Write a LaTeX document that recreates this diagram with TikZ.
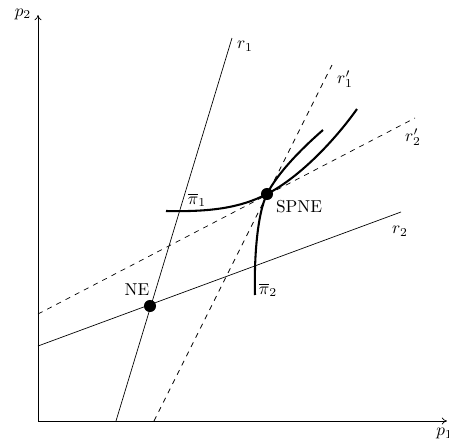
\documentclass[tikz,border=0pt]{standalone}
\usetikzlibrary{arrows.meta}
\begin{document}
\begin{tikzpicture}[x=0.58pt,y=-0.58pt,
  axis/.style={line width=0.4pt,-{To[length=3pt,width=4pt]}},
  resp/.style={line width=0.4pt},
  respd/.style={line width=0.4pt,dashed},
  iso/.style={line width=1.2pt},
  eqdot/.style={circle,fill=black,inner sep=0pt,minimum size=7pt},
  lab/.style={inner sep=0pt}]
\useasboundingbox (0,0) rectangle (449,444);
% axes
\coordinate (O) at (38,421);
\coordinate (Y) at (38,15);
\coordinate (X) at (447,421);
\draw[axis] (O) -- (Y);
\draw[axis] (O) -- (X);
\node[lab] (p2) at (23,14) {$p_2$};
\node[lab,anchor=north west] (p1) at (436,428) {$p_1$};
% best responses
\coordinate (r1a) at (116,421); \coordinate (r1b) at (232,38);
\coordinate (r2a) at (38,346); \coordinate (r2b) at (401,212);
\coordinate (r1pa) at (154,421); \coordinate (r1pb) at (332,65);
\coordinate (r2pa) at (38,314); \coordinate (r2pb) at (415,118);
\draw[resp] (r1a) -- (r1b);
\draw[resp] (r2a) -- (r2b);
\draw[respd] (r1pa) -- (r1pb);
\draw[respd] (r2pa) -- (r2pb);
\node[lab] (lr1) at (245,46) {$r_1$};
\node[lab] (lr2) at (400,231) {$r_2$};
\node[lab] (lr1p) at (345,79) {$r_1'$};
\node[lab] (lr2p) at (413,137) {$r_2'$};
% equilibria
\node[eqdot] (NE) at (150,306) {};
\node[eqdot] (SPNE) at (267,194) {};
% iso-profit curves
\draw[iso] (166,211) .. controls (210,212) and (240,208) .. (SPNE.center)
  .. controls (300,177) and (335,140) .. (357,109);
\draw[iso] (255,295) .. controls (254,260) and (257,214) .. (SPNE.center)
  .. controls (277,174) and (300,150) .. (323,130);
\node[lab] (NEl) at (137,290) {NE};
\node[lab] (SPNEl) at (299,207) {SPNE};
\node[lab] (pi1) at (197,200) {$\overline{\pi}_1$};
\node[lab] (pi2) at (268,290) {$\overline{\pi}_2$};
\end{tikzpicture}
\end{document}
